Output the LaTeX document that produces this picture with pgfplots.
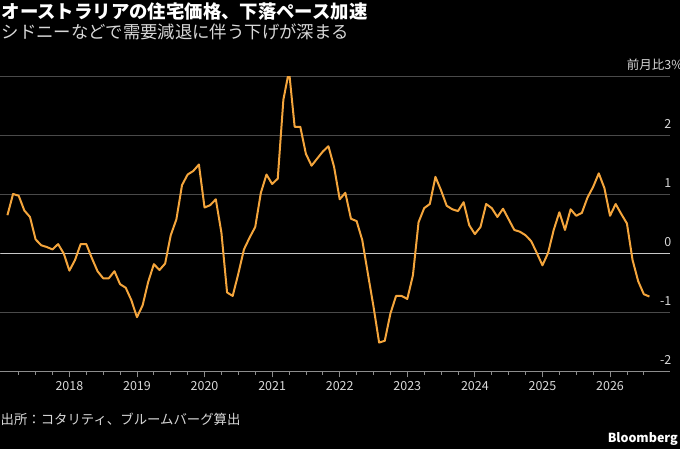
\documentclass[border=0pt]{standalone}
\usepackage{pgfplots}
\pgfplotsset{compat=1.18}
\usetikzlibrary{backgrounds}
\usepackage{fontspec}
\setmainfont{Noto Sans CJK JP}
\definecolor{lineor}{HTML}{F4A53C}
\definecolor{gridgray}{HTML}{4A4A4A}
\definecolor{zerogray}{HTML}{C8C8C8}
\definecolor{tickgray}{HTML}{8C8C8C}
\definecolor{labgray}{HTML}{D8D8D8}
\pgfplotstableread{
m v
-11 0.65
-10 1.01
-9 0.98
-8 0.73
-7 0.62
-6 0.24
-5 0.14
-4 0.11
-3 0.07
-2 0.16
-1 0.00
0 -0.29
1 -0.11
2 0.16
3 0.16
4 -0.08
5 -0.30
6 -0.42
7 -0.42
8 -0.30
9 -0.52
10 -0.58
11 -0.79
12 -1.08
13 -0.88
14 -0.48
15 -0.18
16 -0.28
17 -0.17
18 0.31
19 0.58
20 1.16
21 1.34
22 1.40
23 1.51
24 0.78
25 0.82
26 0.92
27 0.35
28 -0.66
29 -0.72
30 -0.34
31 0.07
32 0.27
33 0.45
34 1.03
35 1.34
36 1.18
37 1.27
38 2.61
39 3.10
40 2.15
41 2.15
42 1.69
43 1.49
44 1.61
45 1.73
46 1.82
47 1.47
48 0.92
49 1.03
50 0.59
51 0.55
52 0.23
53 -0.34
54 -0.90
55 -1.51
56 -1.48
57 -1.02
58 -0.72
59 -0.72
60 -0.77
61 -0.37
62 0.53
63 0.77
64 0.84
65 1.30
66 1.07
67 0.81
68 0.75
69 0.72
70 0.87
71 0.48
72 0.33
73 0.45
74 0.84
75 0.77
76 0.62
77 0.76
78 0.58
79 0.40
80 0.37
81 0.31
82 0.21
83 0.01
84 -0.20
85 0.01
86 0.40
87 0.70
88 0.40
89 0.75
90 0.64
91 0.69
92 0.95
93 1.13
94 1.36
95 1.11
96 0.64
97 0.84
98 0.67
99 0.51
100 -0.11
101 -0.47
102 -0.69
103 -0.73
}\hpi
\begin{document}
\begin{tikzpicture}[x=1pt,y=1pt]
\begin{axis}[
  scale only axis, width=670pt, height=295pt,
  xmin=-12.24, xmax=106.65, ymin=-2, ymax=3,
  axis x line*=bottom, axis y line*=right,
  x axis line style={draw=tickgray, line width=0.8pt, -},
  y axis line style={draw=none},
  xtick={0,12,...,96},
  xticklabels={2018,2019,2020,2021,2022,2023,2024,2025,2026},
  minor xtick={-9,-6,...,102},
  tick align=outside, major tick length=6pt, minor tick length=3.5pt,
  xtick style={draw=tickgray, line width=0.8pt},
  minor x tick style={draw=tickgray, line width=0.8pt},
  ytick={-2,-1,0,1,2,3},
  yticklabels={-2,-1,0,1,2,{\llap{前月比}3\rlap{\%}}},
  ytick style={draw=none},
  ymajorgrids, grid style={draw=gridgray, line width=0.9pt},
  yticklabel style={anchor=base east, inner sep=0pt, xshift=-4.5pt, yshift=7pt, text=labgray, font=\fontsize{12.5}{13}\selectfont},
  xticklabel style={anchor=north, inner sep=0pt, yshift=-4pt, text=labgray, font=\fontsize{12.5}{13}\selectfont},
]
\coordinate (O) at (rel axis cs:0,0);
\draw[zerogray, line width=0.9pt] (axis cs:-12.24,0) -- (axis cs:106.65,0);
\addplot[lineor, line width=2pt, line join=round, mark=none] table[x=m,y=v] {\hpi};
\end{axis}
\begin{scope}[shift={(O)}, yshift=-77.3pt]
\begin{scope}[on background layer]
\fill[black] (0,0) rectangle (680,449);
\end{scope}
\node[anchor=base west, inner sep=0pt, text=white, font=\bfseries\fontsize{18.4}{20}\selectfont] at (1,430) {オーストラリアの住宅価格、下落ペース加速};
\node[anchor=base west, inner sep=0pt, text=labgray, font=\fontsize{17.4}{20}\selectfont] at (1,410) {シドニーなどで需要減退に伴う下げが深まる};
\node[anchor=base west, inner sep=0pt, text=labgray, font=\fontsize{13.4}{15}\selectfont] at (0,24) {出所：コタリティ、ブルームバーグ算出};
\node[anchor=base east, inner sep=0pt, text=white, font=\bfseries\fontsize{12.5}{14}\selectfont] at (678,6) {Bloomberg};
\end{scope}
\end{tikzpicture}
\end{document}
